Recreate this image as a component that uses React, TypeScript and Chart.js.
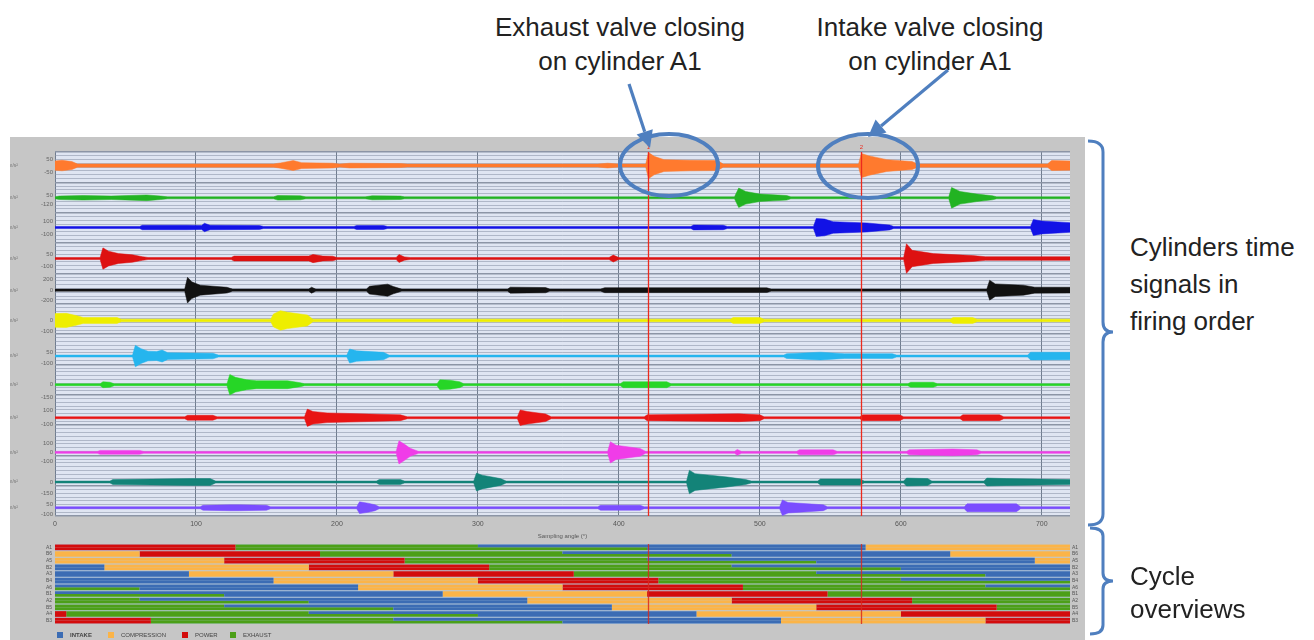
import React, { useEffect, useRef } from 'react';
import { Chart, registerables } from 'chart.js';
Chart.register(...registerables);

// ---------------- data ----------------
const angleTicks = [0, 100, 200, 300, 400, 500, 600, 700];
const markerAngles = [421, 572];
const markerTags = ['1', '2'];
const xAxisTitle = 'Sampling angle (°)';
const signalUnit = 'm/s²';

// tick labels shown left of each trace (signal units)
const traceTicks = [
  [50, -50], [50, -120], [100, -100], [50, -100], [200, 0, -200], [0, -100],
  [50, -100], [0, -150], [100, -100], [100, 0, -100], [0, -150], [50, -100],
];

// envelope of each vibration trace: [angle °, amplitude]
const sig0 = [[0,35],[5,40],[12,30],[16,12],[155,12],[160,20],[169,38],[175,22],[197,18],[202,11],[209,18],[245,15],[250,11],[385,11],[392,18],[400,11],[419,11],[421,100],[425,70],[432,45],[450,40],[470,38],[474,12],[570,12],[572,92],[577,75],[590,45],[608,30],[612,12],[704,12],[707,38],[720,35]];
const sig1 = [[0,17],[3,30],[20,40],[40,30],[65,50],[75,30],[80,17],[155,17],[158,40],[174,35],[178,17],[220,17],[225,35],[245,30],[248,17],[482,17],[485,170],[490,110],[500,65],[519,40],[522,17],[634,17],[636,180],[642,110],[654,65],[665,35],[668,17],[720,17]];
const sig2 = [[0,15],[60,15],[62,35],[94,35],[104,30],[106,65],[110,35],[145,30],[148,15],[212,15],[214,32],[233,30],[236,15],[451,15],[453,38],[474,35],[477,15],[538,15],[540,140],[546,130],[552,90],[576,70],[592,38],[595,15],[692,15],[694,125],[700,100],[720,75]];
const sig3 = [[0,12],[32,12],[34,130],[38,90],[45,60],[55,45],[62,22],[66,12],[125,12],[127,30],[180,30],[183,50],[190,30],[197,28],[200,12],[242,12],[244,48],[248,20],[252,12],[393,12],[396,42],[400,12],[602,12],[604,180],[608,100],[623,60],[651,36],[660,22],[720,22]];
const sig4 = [[0,20],[92,20],[94,245],[97,160],[103,95],[122,55],[126,20],[180,20],[182,57],[185,20],[221,20],[223,75],[236,115],[240,70],[246,20],[321,20],[323,57],[348,50],[351,20],[387,20],[390,48],[505,45],[508,20],[661,20],[663,190],[667,120],[687,95],[695,57],[720,55]];
const sig5 = [[0,63],[8,65],[15,45],[20,27],[44,27],[47,12],[153,12],[155,60],[160,90],[165,75],[179,50],[183,12],[479,12],[481,27],[500,27],[503,12],[635,12],[637,27],[651,27],[654,12],[720,12]];
const sig6 = [[0,13],[55,13],[57,145],[61,100],[66,65],[72,60],[76,80],[80,45],[112,38],[116,13],[207,13],[209,95],[214,70],[233,50],[237,13],[517,13],[519,32],[543,52],[560,32],[594,32],[597,13],[690,13],[692,52],[720,50]];
const sig7 = [[0,12],[32,12],[34,36],[39,30],[42,12],[122,12],[124,125],[128,90],[136,60],[143,48],[165,48],[174,24],[177,12],[271,12],[273,60],[280,55],[287,36],[290,12],[401,12],[403,36],[434,36],[437,12],[605,12],[607,30],[623,30],[626,12],[720,12]];
const sig8 = [[0,14],[92,14],[94,35],[112,35],[115,14],[177,14],[179,125],[183,90],[193,70],[245,42],[250,14],[328,14],[330,112],[335,90],[348,55],[352,14],[418,14],[420,42],[485,56],[500,42],[503,14],[571,14],[573,42],[599,42],[602,14],[642,14],[644,42],[670,42],[673,14],[720,14]];
const sig9 = [[0,11],[30,11],[32,22],[60,22],[63,11],[242,11],[244,130],[248,90],[252,45],[258,11],[392,11],[394,120],[398,80],[415,44],[419,11],[482,11],[484,33],[487,11],[526,11],[528,28],[552,28],[555,11],[604,11],[606,28],[637,38],[654,28],[657,11],[720,11]];
const sig10 = [[0,13],[39,13],[41,32],[96,45],[110,45],[114,13],[228,13],[230,32],[245,32],[248,13],[297,13],[299,117],[303,90],[316,45],[320,13],[448,13],[450,155],[454,110],[477,65],[490,32],[494,13],[541,13],[543,40],[571,40],[574,13],[602,13],[604,52],[619,45],[622,13],[659,13],[661,52],[675,45],[720,32]];
const sig11 = [[0,15],[103,15],[105,38],[124,45],[131,45],[150,38],[153,15],[214,15],[216,90],[222,70],[227,45],[230,15],[385,15],[387,38],[415,38],[418,15],[514,15],[516,120],[520,80],[545,45],[548,15],[645,15],[647,60],[682,60],[685,15],[720,15]];
const signals = [sig0, sig1, sig2, sig3, sig4, sig5, sig6, sig7, sig8, sig9, sig10, sig11];

// cycle overview (angles in °)
const cylinders = ['A1', 'B6', 'A5', 'B2', 'A3', 'B4', 'A6', 'B1', 'A2', 'B5', 'A4', 'B3'];
const powerStart   = [0, 60, 120, 180, 240, 300, 360, 420, 480, 540, 600, 660];
const exhaustOpen  = [128, 188, 248, 308, 368, 428, 488, 548, 608, 668, 8, 68];
const intakeOpen   = [300, 360, 420, 480, 540, 600, 660, 0, 60, 120, 180, 240];
const exhaustClose = [420, 480, 540, 600, 660, 0, 60, 120, 180, 240, 300, 360];
const intakeClose  = [575, 635, 695, 35, 95, 155, 215, 275, 335, 395, 455, 515];
const phaseNames = ['INTAKE', 'COMPRESSION', 'POWER', 'EXHAUST'];

// ---------------- layout / style ----------------
const FONT = '"Liberation Sans", Arial, sans-serif';
const traceZero = [0.447, 1.51, 2.488, 3.512, 4.555, 5.553, 6.727, 7.672, 8.761, 9.902, 10.88, 11.728];
const traceGain = [0.004337, 0.001891, 0.002119, 0.002706, 0.001728, 0.003587, 0.002445, 0.002706, 0.002282, 0.002934, 0.002511, 0.002152];
const traceColors = ['#ff7a2e', '#22b322', '#1212e6', '#dd1111', '#111111', '#eeee00', '#25b5ee', '#26d626', '#e81414', '#f03ce8', '#138378', '#7a4dff'];
const phaseColors = ['#3b6cb4', '#fbb448', '#d30c0c', '#4c9f18'];
const ANNOT = '#4f7fbf';

const areaBg = (color: string) => ({
  id: 'areaBg',
  beforeDraw(chart: any) {
    const { ctx, chartArea: a } = chart;
    ctx.save();
    ctx.fillStyle = color;
    ctx.fillRect(a.left, a.top, a.right - a.left, a.bottom - a.top);
    ctx.restore();
  },
});

const markerPlugin = (color: string, withTags: boolean) => ({
  id: 'markers',
  afterDatasetsDraw(chart: any) {
    const { ctx, chartArea: a, scales } = chart;
    ctx.save();
    markerAngles.forEach((ang, i) => {
      const px = Math.round(scales.x.getPixelForValue(ang)) + 0.5;
      ctx.strokeStyle = color;
      ctx.lineWidth = 1.3;
      ctx.beginPath();
      ctx.moveTo(px, a.top);
      ctx.lineTo(px, a.bottom);
      ctx.stroke();
      if (withTags) {
        ctx.fillStyle = color;
        ctx.font = `6px ${FONT}`;
        ctx.textAlign = 'center';
        ctx.fillText(markerTags[i], px, a.top - 3);
      }
    });
    ctx.restore();
  },
});

function cyc(s: number, e: number): [number[] | null, number[] | null] {
  if (e > s) return [[s, e], null];
  return [s < 720 ? [s, 720] : null, e > 0 ? [0, e] : null];
}

export default function App() {
  const sigRef = useRef<HTMLCanvasElement>(null);
  const ovRef = useRef<HTMLCanvasElement>(null);

  useEffect(() => {
    // ---------- signal chart ----------
    const sigSets: any[] = [];
    signals.forEach((sig, i) => {
      const c = traceColors[i];
      sigSets.push({
        label: `t${i}u`,
        data: sig.map(([a, amp]) => ({ x: a, y: traceZero[i] - amp * traceGain[i] })),
        borderColor: c, borderWidth: 0.5, pointRadius: 0, fill: false,
      });
      sigSets.push({
        label: `t${i}l`,
        data: sig.map(([a, amp]) => ({ x: a, y: traceZero[i] + amp * traceGain[i] })),
        borderColor: c, backgroundColor: c, borderWidth: 0.5, pointRadius: 0, fill: '-1',
      });
    });
    const labelTicks = traceTicks.flatMap((vals, i) =>
      vals.map((v) => ({ pos: traceZero[i] - v * traceGain[i], text: String(v) })));

    const sigChart = new Chart(sigRef.current!, {
      type: 'line',
      data: { datasets: sigSets },
      plugins: [areaBg('#dfe5f2'), markerPlugin('#ec2a1e', true)],
      options: {
        animation: false, responsive: false, maintainAspectRatio: false,
        layout: { padding: { top: 11, right: 15, left: 0, bottom: 0 } },
        plugins: { legend: { display: false }, tooltip: { enabled: false } },
        scales: {
          x: {
            type: 'linear', min: 0, max: 720, position: 'bottom',
            afterBuildTicks: (s: any) => { s.ticks = angleTicks.map((v) => ({ value: v })); },
            ticks: { font: { size: 7, family: FONT }, color: '#555', padding: 4, maxRotation: 0, autoSkip: false },
            grid: { color: '#707c8e', lineWidth: 1, drawTicks: false },
            border: { display: false },
            title: { display: true, text: xAxisTitle, font: { size: 6, family: FONT }, color: '#555', padding: 0 },
            afterFit: (s: any) => { s.height = 24; },
          },
          y: {
            type: 'linear', min: 0, max: 12, reverse: true, position: 'left', weight: 0,
            ticks: { display: false, stepSize: 0.125 },
            grid: {
              drawTicks: false,
              color: (ctx: any) => (Number.isInteger(ctx.tick.value) ? '#8c95a6' : 'rgba(135,145,165,0.55)'),
              lineWidth: (ctx: any) => (Number.isInteger(ctx.tick.value) ? 1.5 : 1),
            },
            border: { display: false },
            afterFit: (s: any) => { s.width = 0; },
          },
          yl: {
            type: 'linear', min: 0, max: 12, reverse: true, position: 'left', weight: 1,
            afterBuildTicks: (s: any) => { s.ticks = labelTicks.map((t) => ({ value: t.pos })); },
            ticks: {
              autoSkip: false, padding: 2, font: { size: 6, family: FONT }, color: '#666',
              callback: (_v: any, idx: number) => labelTicks[idx].text,
            },
            grid: { display: false, drawTicks: false },
            border: { display: false },
            afterFit: (s: any) => { s.width = 25; },
          },
          yu: {
            type: 'linear', min: 0, max: 12, reverse: true, position: 'left', weight: 2,
            afterBuildTicks: (s: any) => { s.ticks = traceZero.map((z) => ({ value: z })); },
            ticks: { autoSkip: false, padding: 12, font: { size: 5, family: FONT }, color: '#777', callback: () => signalUnit },
            grid: { display: false, drawTicks: false },
            border: { display: false },
            afterFit: (s: any) => { s.width = 20; },
          },
        },
      } as any,
    });

    // ---------- cycle overview ----------
    const halves = [
      { stack: 'upper', ranges: [[intakeOpen, intakeClose], [intakeClose, powerStart], [powerStart, exhaustOpen], [exhaustOpen, intakeOpen]] },
      { stack: 'lower', ranges: [[exhaustClose, intakeClose], [intakeClose, powerStart], [powerStart, exhaustOpen], [exhaustOpen, exhaustClose]] },
    ];
    const ovSets: any[] = [];
    halves.forEach((h) => {
      h.ranges.forEach(([from, to], p) => {
        const parts = cylinders.map((_, r) => cyc(from[r], to[r]));
        [0, 1].forEach((k) => {
          ovSets.push({
            label: `${phaseNames[p]}-${h.stack}-${k}`,
            data: parts.map((pp) => pp[k]),
            backgroundColor: phaseColors[p],
            borderWidth: 0, stack: h.stack, barPercentage: 1, categoryPercentage: 0.86,
          });
        });
      });
    });

    const ovChart = new Chart(ovRef.current!, {
      type: 'bar',
      data: { labels: cylinders, datasets: ovSets },
      plugins: [areaBg('#b9cadc'), markerPlugin('rgba(215,40,30,0.85)', false)],
      options: {
        indexAxis: 'y', animation: false, responsive: false, maintainAspectRatio: false,
        layout: { padding: { top: 5, right: 0, left: 0, bottom: 3 } },
        plugins: { legend: { display: false }, tooltip: { enabled: false } },
        scales: {
          x: { type: 'linear', min: 0, max: 720, display: false, stacked: false },
          y: {
            type: 'category', position: 'left',
            ticks: { font: { size: 5, family: FONT }, color: '#555', padding: 3, autoSkip: false },
            grid: { display: false, drawTicks: false }, border: { display: false },
            afterFit: (s: any) => { s.width = 45; },
          },
          yr: {
            type: 'category', position: 'right', labels: cylinders,
            ticks: { font: { size: 5, family: FONT }, color: '#555', padding: 2, autoSkip: false },
            grid: { display: false, drawTicks: false }, border: { display: false },
            afterFit: (s: any) => { s.width = 15; },
          },
        },
      } as any,
    });

    return () => { sigChart.destroy(); ovChart.destroy(); };
  }, []);

  const arrow = (x1: number, y1: number, x2: number, y2: number) => {
    const dx = x2 - x1, dy = y2 - y1, L = Math.hypot(dx, dy);
    const ux = dx / L, uy = dy / L, hl = 17, hw = 8.5;
    const bx = x2 - ux * hl, by = y2 - uy * hl;
    return (
      <g>
        <line x1={x1} y1={y1} x2={bx} y2={by} stroke={ANNOT} strokeWidth={3.2} />
        <polygon points={`${x2},${y2} ${bx - uy * hw},${by + ux * hw} ${bx + uy * hw},${by - ux * hw}`} fill={ANNOT} />
      </g>
    );
  };

  const legendLeft = [57, 108, 182, 230];
  const textStyle: React.CSSProperties = { position: 'absolute', fontFamily: FONT, fontSize: 26, color: '#222', whiteSpace: 'nowrap' };

  return (
    <div style={{ position: 'absolute', left: 0, top: 0, width: 1314, height: 640, background: '#fff', overflow: 'hidden' }}>
      <div style={{ position: 'absolute', left: 10, top: 137, width: 1075, height: 503, background: '#c6c6c6' }} />
      <canvas ref={sigRef} width={1075} height={403} style={{ position: 'absolute', left: 10, top: 137, width: 1075, height: 403 }} />
      <canvas ref={ovRef} width={1075} height={92} style={{ position: 'absolute', left: 10, top: 538, width: 1075, height: 92 }} />
      {phaseNames.map((n, i) => (
        <div key={n} style={{ position: 'absolute', left: legendLeft[i], top: 632, display: 'flex', alignItems: 'center', fontFamily: FONT, fontSize: 6, color: '#444', fontWeight: i === 0 ? 700 : 400 }}>
          <span style={{ display: 'inline-block', width: 6, height: 6, background: phaseColors[i], marginRight: 7 }} />
          {n}
        </div>
      ))}
      <div style={{ ...textStyle, left: 470, width: 300, top: 10, lineHeight: '34px', textAlign: 'center' }}>
        Exhaust valve closing<br />on cylinder A1
      </div>
      <div style={{ ...textStyle, left: 780, width: 300, top: 10, lineHeight: '34px', textAlign: 'center' }}>
        Intake valve closing<br />on cylinder A1
      </div>
      <div style={{ ...textStyle, left: 1130, top: 229, lineHeight: '37px' }}>
        Cylinders time<br />signals in<br />firing order
      </div>
      <div style={{ ...textStyle, left: 1130, top: 560, lineHeight: '33px' }}>
        Cycle<br />overviews
      </div>
      <svg width={1314} height={640} style={{ position: 'absolute', left: 0, top: 0, pointerEvents: 'none' }}>
        <ellipse cx={669} cy={165} rx={49} ry={31} fill="none" stroke={ANNOT} strokeWidth={4} />
        <ellipse cx={868} cy={166} rx={50} ry={32} fill="none" stroke={ANNOT} strokeWidth={4} />
        {arrow(629, 84, 650, 148)}
        {arrow(948, 70, 868, 137)}
        <path d="M1088 141 Q1103 141 1103 152 L1103 322 Q1103 332 1113 332 Q1103 332 1103 342 L1103 514 Q1103 525 1088 525" fill="none" stroke={ANNOT} strokeWidth={3} />
        <path d="M1090 528 Q1103 528 1103 536 L1103 573 Q1103 581 1113 581 Q1103 581 1103 589 L1103 625 Q1103 634 1090 634" fill="none" stroke={ANNOT} strokeWidth={3} />
      </svg>
    </div>
  );
}
